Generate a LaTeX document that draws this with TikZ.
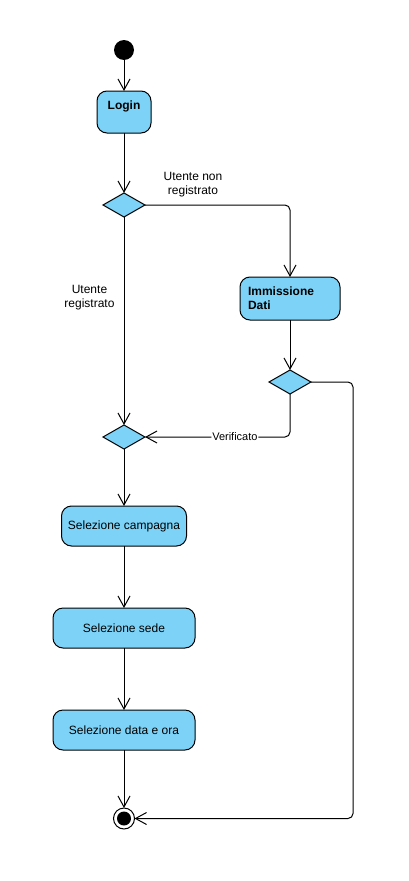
\documentclass[tikz,border=0pt]{standalone}
\usepackage{fontspec}
\setmainfont{Liberation Sans}
\usetikzlibrary{positioning}
\usetikzlibrary{shapes.geometric}
\usetikzlibrary{arrows.meta}
\definecolor{actblue}{RGB}{125,211,247}

\begin{document}
\begin{tikzpicture}[x=1pt,y=1pt,>={Straight Barb[length=11pt,width=12pt]},line width=1pt,font=\fontsize{12}{14}\selectfont]
\tikzstyle{act}=[draw,fill=actblue,rounded corners=10pt,minimum height=40pt,inner sep=0pt,outer sep=0pt]
\tikzstyle{dec}=[draw,fill=actblue,diamond,minimum width=42pt,minimum height=24pt,inner sep=0pt,outer sep=0pt]
\tikzstyle{startst}=[circle,fill=black,minimum size=20pt,inner sep=0pt,outer sep=0pt]
\tikzstyle{endst}=[circle,draw,fill=white,minimum size=21pt,inner sep=0pt,outer sep=0pt,path picture={\fill[black] (path picture bounding box.center) circle (7pt);}]
\tikzstyle{flow}=[->,rounded corners=5pt]
\tikzstyle{lbl}=[align=center]
\useasboundingbox (0,0) rectangle (409,-881);

\node[startst]	(start)	at (124,-50)	{};
\node[act, minimum width=54pt, minimum height=42pt, text height=13pt, text depth=19pt, inner ysep=5pt]	(login)	[below=31pt of start]	{\textbf{Login}};
\node[dec]	(dec1)	[below=60pt of login]	{};
\node[dec]	(dec3)	[below=208pt of dec1]	{};
\node[act, minimum width=125pt]	(camp)	[below=57pt of dec3]	{Selezione campagna};
\node[act, minimum width=142pt]	(sede)	[below=62pt of camp]	{Selezione sede};
\node[act, minimum width=142pt]	(data)	[below=62pt of sede]	{Selezione data e ora};
\node[endst]	(end)	[below=58pt of data]	{};
\node[act, minimum width=100pt, minimum height=43pt, text width=84pt, align=left, inner xsep=8pt, font=\fontsize{12}{14}\selectfont\bfseries]	(imm)	at (290,-298.5)	{Immissione\\Dati};
\node[dec]	(dec2)	[below=50pt of imm]	{};
\coordinate	(rgt)	at (353,-600);

\node[lbl]	(nonreg)	at (193,-184.5)	{Utente non\\registrato};
\node[lbl]	(reg)	at (89.5,-297.5)	{Utente\\registrato};

\path[->](start)	edge	(login)
	 (login)	edge	(dec1)
	 (dec1)	edge	(dec3)
	 (dec3)	edge	(camp)
	 (camp)	edge	(sede)
	 (sede)	edge	(data)
	 (data)	edge	(end)
	 (imm)	edge	(dec2);
\draw[flow] (dec1.east) -| (imm.north);
\draw[flow] (dec2.south) |- node[pos=0.69, fill=white, inner sep=1pt, font=\fontsize{11}{13}\selectfont] (verif) {Verificato} (dec3.east);
\draw[flow] (dec2.east) -| (rgt) |- (end.east);
\end{tikzpicture}
\end{document}
